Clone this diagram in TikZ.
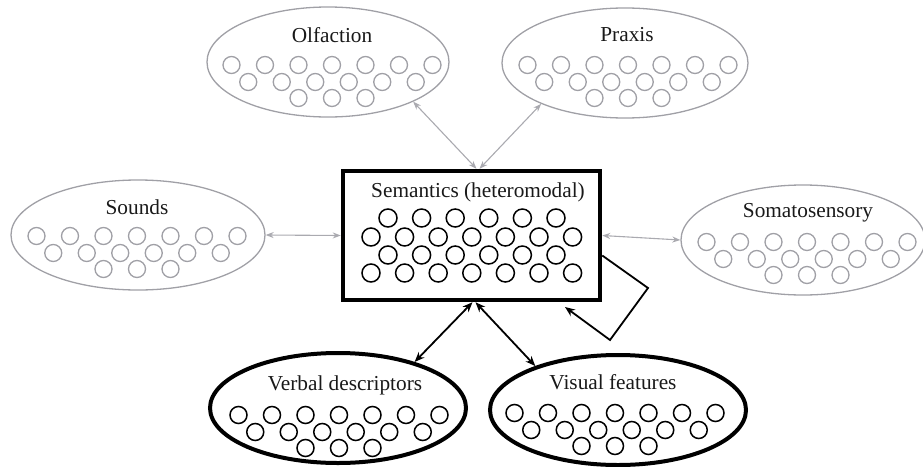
\documentclass[tikz,border=0pt]{standalone}
\usepackage{fontspec}
\setmainfont{Liberation Serif}
\usetikzlibrary{shapes.geometric,arrows.meta}
\definecolor{ggray}{RGB}{160,160,166}
\definecolor{agray}{RGB}{170,170,176}
\definecolor{tdark}{RGB}{25,25,25}
\tikzset{
  gell/.style={ellipse, draw=ggray, line width=1.3pt, inner sep=0pt},
  bell/.style={ellipse, draw=black, line width=4pt, inner sep=0pt},
  lbl/.style={font=\fontsize{21.3}{25}\selectfont, text=tdark, inner sep=0pt},
  gcirc/.style={draw=ggray, line width=1.3pt},
  bcirc/.style={draw=black, line width=1.5pt},
  garrow/.style={draw=agray, line width=1.1pt, {Stealth[length=8pt,width=6pt]}-{Stealth[length=8pt,width=6pt]}},
  barrow/.style={draw=black, line width=1.8pt, {Stealth[length=10pt,width=8pt]}-{Stealth[length=10pt,width=8pt]}},
}
\newcommand{\circpat}[3]{%
  \foreach \dx in {-100.5,-67,-33.5,0,33.5,67,100.5} {\draw[#3] (#1+\dx,#2) circle (8.5);}
  \foreach \dx in {-83.75,-50.25,-16.75,16.75,50.25,83.75} {\draw[#3] (#1+\dx,#2+17) circle (8.5);}
  \foreach \dx in {-33.5,0,33.5} {\draw[#3] (#1+\dx,#2+33) circle (8.5);}
}
\begin{document}
\begin{tikzpicture}[x=1pt,y=-1pt]
\useasboundingbox (0,0) rectangle (923,466);
% gray ellipses
\node[gell, minimum width=242pt, minimum height=110pt] (olf) at (328,62) {};
\node[gell, minimum width=246pt, minimum height=110pt] (pra) at (625,63) {};
\node[gell, minimum width=254pt, minimum height=110pt] (snd) at (138,235) {};
\node[gell, minimum width=244pt, minimum height=110pt] (som) at (803,240) {};
% black ellipses
\node[bell, minimum width=256pt, minimum height=110pt] (vrb) at (338,408) {};
\node[bell, minimum width=256pt, minimum height=110pt] (vis) at (618,410) {};
% central box
\node[draw=black, line width=4.5pt, minimum width=257pt, minimum height=129pt, inner sep=0pt] (sem) at (471.5,235.5) {};
% labels
\node[lbl] (olft) at (332,35) {Olfaction};
\node[lbl] (prat) at (627,35) {Praxis};
\node[lbl] (sndt) at (137,207) {Sounds};
\node[lbl] (somt) at (808,213) {Somatosensory};
\node[lbl] (semt) at (478,192) {Semantics (heteromodal)};
\node[lbl] (vrbt) at (345,385) {Verbal descriptors};
\node[lbl] (vist) at (613,382) {Visual features};
% circle patterns
\circpat{332}{65}{gcirc}
\circpat{628}{65}{gcirc}
\circpat{137}{236}{gcirc}
\circpat{807}{242}{gcirc}
\circpat{339}{415}{bcirc}
\circpat{615}{413}{bcirc}
\foreach \y in {218,255} {\foreach \i in {0,...,5} {\draw[bcirc] (388+33.6*\i,\y) circle (9);}}
\foreach \y in {237,273} {\foreach \i in {0,...,6} {\draw[bcirc] (371+33.6*\i,\y) circle (9);}}
% connectors
\draw[garrow] (olf.-25) -- ([xshift=5pt]sem.north);
\draw[garrow] (pra.-154) -- ([xshift=8pt]sem.north);
\draw[garrow] (snd.east) -- (sem.west);
\draw[garrow] (som.west) -- (sem.east);
\draw[barrow] (vrb.31) -- ([xshift=1pt]sem.south);
\draw[barrow] (vis.152) -- ([xshift=4pt]sem.south);
\coordinate (fb1) at (648,288);
\coordinate (fb2) at (610,340);
\coordinate (fb3) at (565,307);
\draw[draw=black, line width=1.8pt, -{Stealth[length=10pt,width=8pt]}] ([yshift=-20pt]sem.east) -- (fb1) -- (fb2) -- (fb3);
\end{tikzpicture}
\end{document}
